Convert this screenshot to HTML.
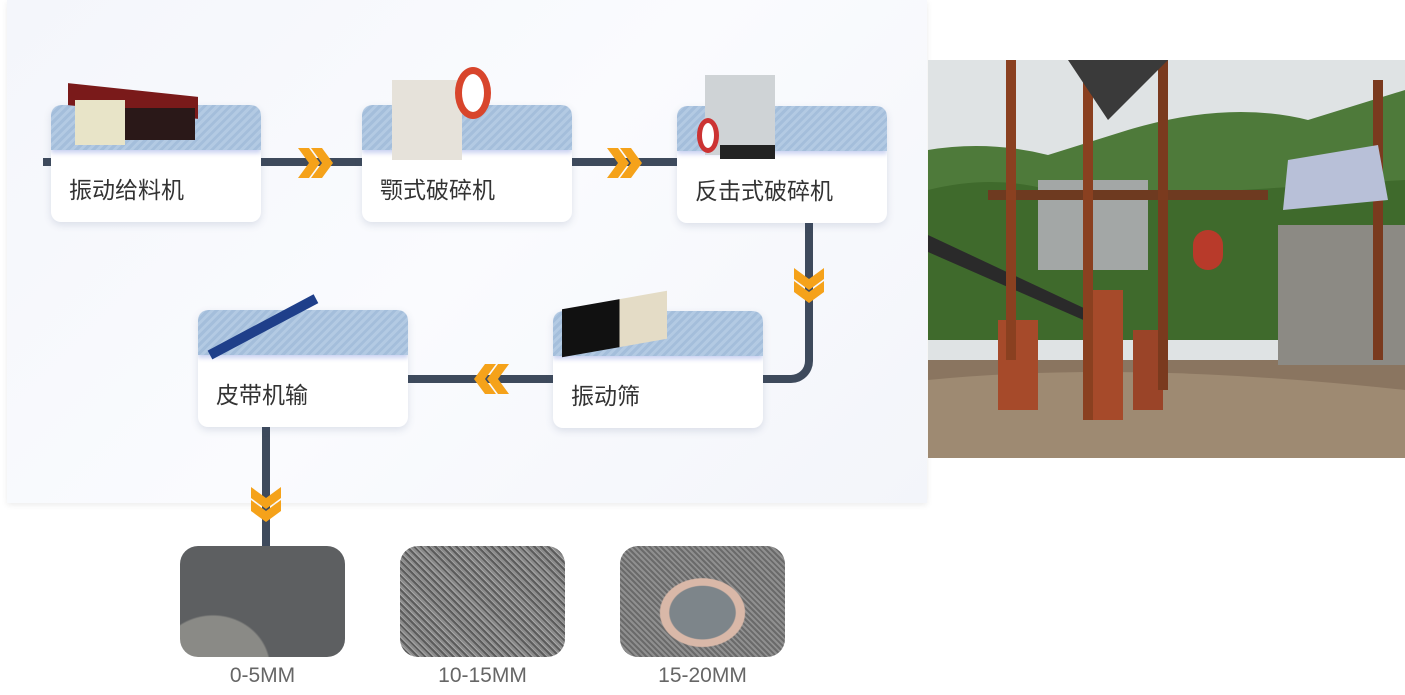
<!DOCTYPE html>
<html><head><meta charset="utf-8"><style>
*{margin:0;padding:0;box-sizing:border-box}
body{width:1405px;height:695px;background:#fff;position:relative;overflow:hidden;font-family:"Liberation Sans","Noto Sans CJK SC",sans-serif}
.panel{position:absolute;left:7px;top:0;width:920px;height:503px;background:linear-gradient(135deg,#f4f6fb,#fafbfe 50%,#f3f5fa);box-shadow:0 2px 6px rgba(0,0,0,.08)}
.ln{position:absolute;background:#3e4a5c}
.card{position:absolute;width:210px;height:117px;background:#fff;border-radius:10px;box-shadow:0 3px 8px rgba(60,80,120,.15);overflow:hidden}
.card .hd{height:45px;background:repeating-linear-gradient(135deg,#a4bedb 0 3px,#b3cae3 3px 6px);border-radius:10px 10px 0 0;box-shadow:0 3px 5px rgba(120,140,220,.4)}
.card .t{position:absolute;left:18px;top:66px;font-size:23px;color:#333}
.arr{position:absolute}
.ph{position:absolute;top:546px;width:165px;height:111px;border-radius:18px}
.lb{position:absolute;top:664px;font-size:21px;color:#666;width:165px;text-align:center}
</style></head><body>
<div class="panel"></div>
<div class="ln" style="left:43px;top:158px;width:640px;height:8px"></div>
<div style="position:absolute;left:763px;top:219px;width:50px;height:164px;border:8px solid #3e4a5c;border-left:none;border-top:none;border-radius:0 0 22px 0"></div>
<div class="ln" style="left:405px;top:375px;width:360px;height:8px"></div>
<div class="ln" style="left:262px;top:425px;width:8px;height:122px"></div>

<div class="card" style="left:51px;top:105px"><div class="hd"></div><div class="t">振动给料机</div></div>
<div class="card" style="left:362px;top:105px"><div class="hd"></div><div class="t">颚式破碎机</div></div>
<div class="card" style="left:677px;top:106px"><div class="hd"></div><div class="t">反击式破碎机</div></div>
<div class="card" style="left:198px;top:310px"><div class="hd"></div><div class="t">皮带机输</div></div>
<div class="card" style="left:553px;top:311px"><div class="hd"></div><div class="t">振动筛</div></div>

<div style="position:absolute;left:68px;top:90px;width:130px;height:22px;background:#7a1a1a;transform:skewY(6deg)"></div>
<div style="position:absolute;left:75px;top:100px;width:50px;height:45px;background:#e8e4c8"></div>
<div style="position:absolute;left:125px;top:108px;width:70px;height:32px;background:#2a1818"></div>
<div style="position:absolute;left:392px;top:80px;width:70px;height:80px;background:#e6e2da"></div>
<div style="position:absolute;left:455px;top:67px;width:36px;height:52px;border-radius:50%;border:7px solid #d8452c;background:#fff"></div>
<div style="position:absolute;left:705px;top:75px;width:70px;height:80px;background:#cfd3d6"></div>
<div style="position:absolute;left:697px;top:118px;width:22px;height:35px;border-radius:50%;border:5px solid #c33;background:#fff"></div>
<div style="position:absolute;left:720px;top:145px;width:55px;height:14px;background:#222"></div>
<div style="position:absolute;left:562px;top:300px;width:105px;height:48px;background:linear-gradient(90deg,#111 55%,#e4dcc6 55%);transform:skewY(-10deg)"></div>
<div style="position:absolute;left:210px;top:350px;width:120px;height:10px;background:#1f3f8a;transform:rotate(-28deg);transform-origin:left"></div>

<svg class="arr" style="left:298px;top:148px" width="36" height="30"><path d="M0 0L11 0L22 15L11 30L0 30L11 15Z M13 0L24 0L35 15L24 30L13 30L24 15Z" fill="#f5a21a"/></svg>
<svg class="arr" style="left:607px;top:148px" width="36" height="30"><path d="M0 0L11 0L22 15L11 30L0 30L11 15Z M13 0L24 0L35 15L24 30L13 30L24 15Z" fill="#f5a21a"/></svg>
<svg class="arr" style="left:473px;top:364px;transform:scaleX(-1)" width="36" height="30"><path d="M0 0L11 0L22 15L11 30L0 30L11 15Z M13 0L24 0L35 15L24 30L13 30L24 15Z" fill="#f5a21a"/></svg>
<svg class="arr" style="left:794px;top:268px" width="30" height="36"><path d="M0 0L0 11L15 22L30 11L30 0L15 11Z M0 13L0 24L15 35L30 24L30 13L15 24Z" fill="#f5a21a"/></svg>
<svg class="arr" style="left:251px;top:487px" width="30" height="36"><path d="M0 0L0 11L15 22L30 11L30 0L15 11Z M0 13L0 24L15 35L30 24L30 13L15 24Z" fill="#f5a21a"/></svg>

<div class="ph" style="left:180px;background:radial-gradient(ellipse at 20% 110%,#8a8a86 0 30%,transparent 31%),#5d5f61"></div>
<div class="ph" style="left:400px;background:repeating-linear-gradient(45deg,#8b8b8b 0 2px,#5c5c5c 2px 4px,#a6a6a6 4px 5px)"></div>
<div class="ph" style="left:620px;background:radial-gradient(ellipse at 50% 60%,#7d858a 0 28%,#d9b8a8 29% 36%,transparent 37%),repeating-linear-gradient(45deg,#8f8f8f 0 2px,#6a6a6a 2px 4px)"></div>
<div class="lb" style="left:180px">0-5MM</div>
<div class="lb" style="left:400px">10-15MM</div>
<div class="lb" style="left:620px">15-20MM</div>

<svg style="position:absolute;left:928px;top:60px" width="477" height="398" viewBox="0 0 477 398">
<rect width="477" height="398" fill="#dfe3e4"/>
<path d="M0 90 Q60 80 120 95 L200 70 Q300 40 380 60 L477 30 L477 260 L0 260Z" fill="#4e7a3a"/>
<path d="M0 130 Q80 110 150 140 L477 120 L477 280 L0 280Z" fill="#3f6a2c"/>
<rect y="300" width="477" height="98" fill="#8a7560"/>
<path d="M0 320 Q200 300 477 330 L477 398 L0 398Z" fill="#9e8a72"/>
<rect x="350" y="165" width="127" height="140" fill="#8c8a84"/>
<rect x="110" y="120" width="110" height="90" fill="#a3a7a6"/>
<rect x="60" y="130" width="280" height="10" fill="#6e3a20"/>
<rect x="70" y="260" width="40" height="90" fill="#a64a2a"/>
<rect x="155" y="230" width="40" height="130" fill="#a64a2a"/>
<rect x="205" y="270" width="30" height="80" fill="#9a4428"/>
<path d="M0 175 L160 250 L160 262 L0 192Z" fill="#2a2a2a"/>
<rect x="78" y="0" width="10" height="300" fill="#8a4020"/>
<rect x="155" y="0" width="10" height="360" fill="#8a4020"/>
<rect x="230" y="0" width="10" height="330" fill="#7a3a1e"/>
<rect x="445" y="20" width="10" height="280" fill="#7a3a1e"/>
<path d="M140 0 L240 0 L180 60 Z" fill="#3a3a3a"/>
<rect x="265" y="170" width="30" height="40" rx="15" fill="#b83a2a"/>
<path d="M360 100 L450 85 L460 140 L355 150Z" fill="#b8c0d8"/>
</svg>
</body></html>
